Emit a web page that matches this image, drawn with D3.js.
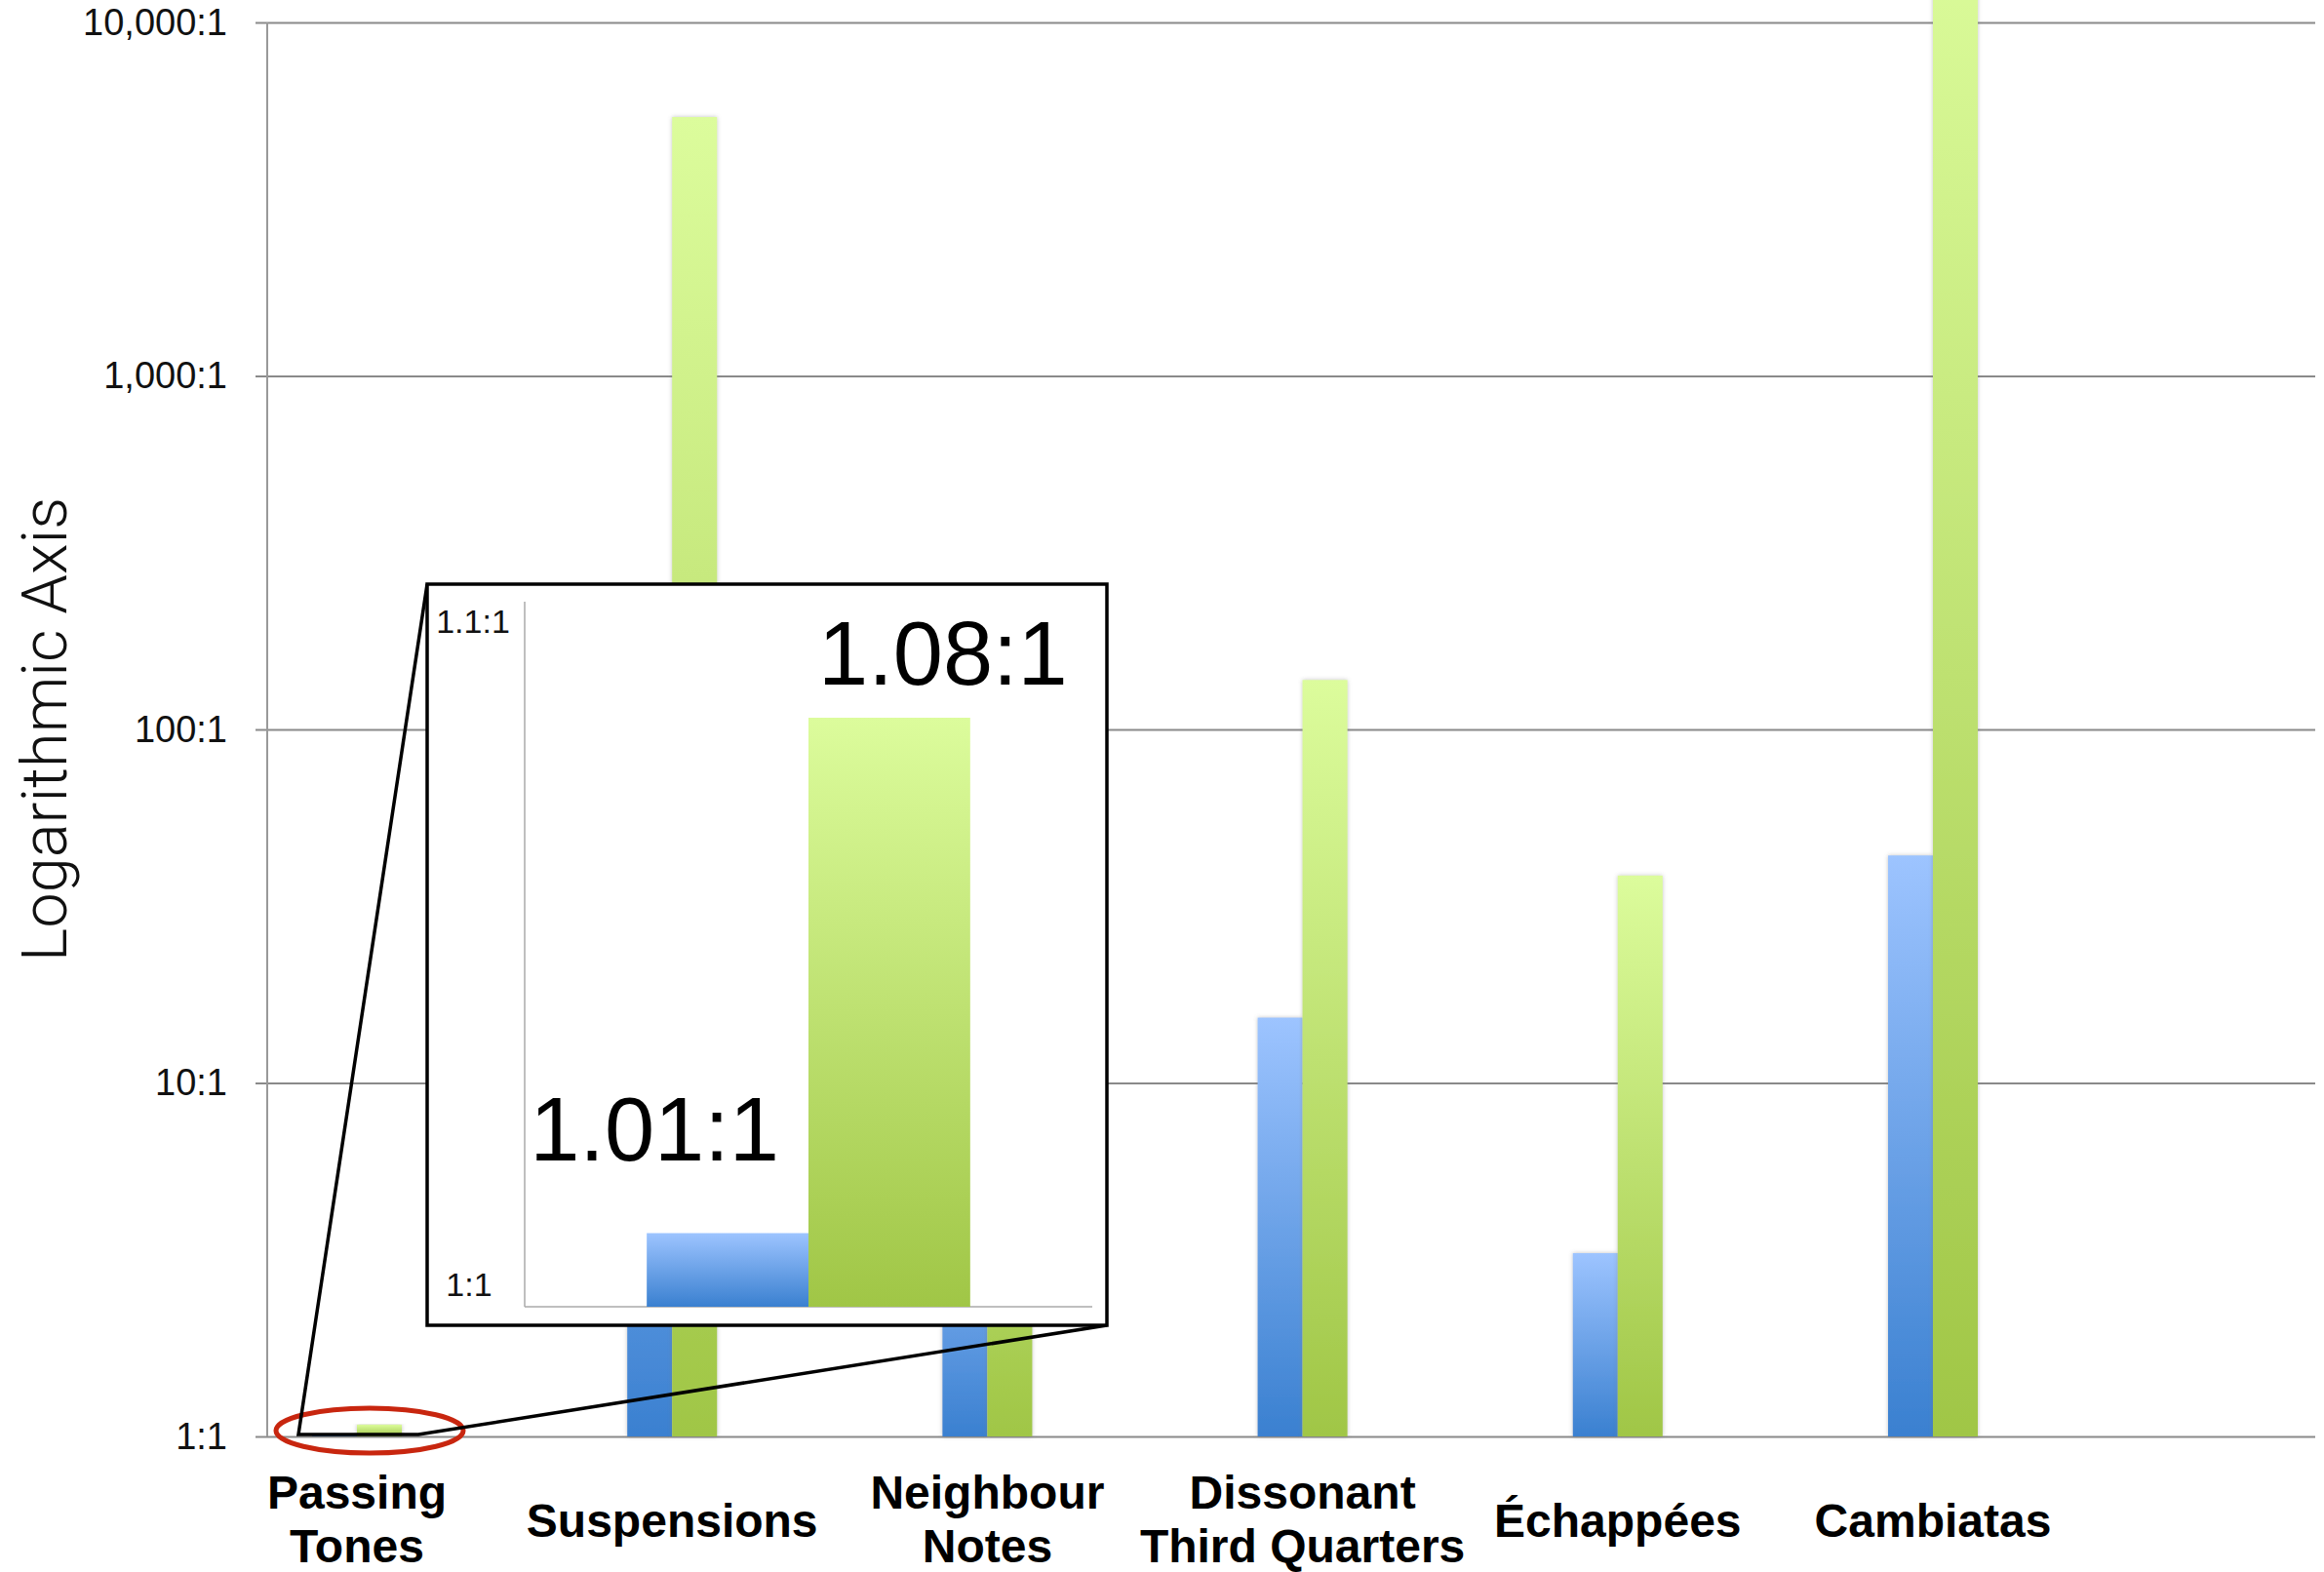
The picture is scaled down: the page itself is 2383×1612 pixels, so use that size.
<!DOCTYPE html>
<html>
<head>
<meta charset="utf-8">
<script src="https://cdn.jsdelivr.net/npm/d3@7"></script>
<style>
  html, body { margin: 0; padding: 0; background: #ffffff; }
  svg { display: block; }
</style>
</head>
<body>
<svg id="chart" width="2383" height="1612"></svg>
<script>
// ---------- data ----------
const categories = ["Passing Tones", "Suspensions", "Neighbour Notes", "Dissonant Third Quarters", "Échappées", "Cambiatas"];
const categoryLines = [["Passing", "Tones"], ["Suspensions"], ["Neighbour", "Notes"], ["Dissonant", "Third Quarters"], ["Échappées"], ["Cambiatas"]];
const seriesNames = ["blue", "green"];
const blueValues = [1.01, 40, 6, 15.3, 3.3, 44];
const greenValues = [1.08, 5400, 60, 138, 38.6, 20000];
const yTickValues = [1, 10, 100, 1000, 10000];
const yTickLabels = ["1:1", "10:1", "100:1", "1,000:1", "10,000:1"];
const yTitle = "Logarithmic Axis";
// inset (zoom of Passing Tones)
const insetCategory = ["Passing Tones"];
const insetValues = [1.01, 1.08];
const insetValueLabels = ["1.01:1", "1.08:1"];
const insetTickValues = [1, 1.1];
const insetTickLabels = ["1:1", "1.1:1"];

// ---------- setup ----------
const svg = d3.select("#chart");
svg.append("rect").attr("width", 2383).attr("height", 1612).attr("fill", "#ffffff");

const defs = svg.append("defs");
function grad(id, top, bottom) {
  const g = defs.append("linearGradient").attr("id", id)
    .attr("x1", 0).attr("y1", 0).attr("x2", 0).attr("y2", 1);
  g.append("stop").attr("offset", "0%").attr("stop-color", top);
  g.append("stop").attr("offset", "100%").attr("stop-color", bottom);
}
grad("gBlue", "#9dc4ff", "#3a80d0");
grad("gGreen", "#dcfc9c", "#a0c646");
const fills = { blue: "url(#gBlue)", green: "url(#gGreen)" };
const sh = defs.append("filter").attr("id", "shadow")
  .attr("x", "-30%").attr("y", "-5%").attr("width", "160%").attr("height", "110%");
sh.append("feDropShadow").attr("dx", 0).attr("dy", 0).attr("stdDeviation", 2)
  .attr("flood-color", "#777").attr("flood-opacity", 0.45);

const plotLeft = 274, plotRight = 2374, plotTop = 23, plotBottom = 1473;

const y = d3.scaleLog().domain([1, 10000]).range([plotBottom, plotTop]);
const x = d3.scalePoint().domain(categories).range([366, 1982]);
const xs = d3.scaleBand().domain(seriesNames).range([-46, 46]);

// ---------- gridlines + y axis ----------
const yAxis = d3.axisLeft(y)
  .tickValues(yTickValues)
  .tickSize(-(plotRight - 262))
  .tickPadding(29)
  .tickFormat((d, i) => yTickLabels[i]);
const gy = svg.append("g").attr("transform", "translate(262,0)").call(yAxis);
gy.select(".domain").remove();
gy.selectAll(".tick line").attr("stroke", "#8a8a8a").attr("stroke-width", 2);
gy.selectAll(".tick text")
  .attr("font-family", "'Liberation Sans', Arial, sans-serif")
  .attr("font-size", 38).attr("fill", "#111");

svg.append("line")
  .attr("x1", plotLeft).attr("x2", plotLeft)
  .attr("y1", plotTop).attr("y2", plotBottom)
  .attr("stroke", "#999").attr("stroke-width", 2);

// y title
svg.append("text")
  .attr("transform", `translate(68,${(plotTop + plotBottom) / 2}) rotate(-90)`)
  .attr("text-anchor", "middle")
  .attr("font-family", "Roboto, 'Liberation Sans', sans-serif")
  .attr("font-weight", 300)
  .attr("font-size", 65)
  .attr("fill", "#111")
  .text(yTitle);

// ---------- bars ----------
const rows = categories.map((c, i) => ({ cat: c, vals: [
  { s: "blue", v: blueValues[i] }, { s: "green", v: greenValues[i] } ] }));

const barG = svg.append("g");
rows.forEach(r => {
  r.vals.forEach(d => {
    barG.append("rect")
      .attr("x", x(r.cat) + xs(d.s))
      .attr("width", xs.bandwidth())
      .attr("y", y(d.v))
      .attr("height", y(1) - y(d.v))
      .attr("fill", fills[d.s])
      .attr("filter", "url(#shadow)");
  });
});

// ---------- category labels ----------
const labG = svg.append("g")
  .attr("font-family", "'Liberation Sans', Arial, sans-serif")
  .attr("font-weight", "bold")
  .attr("font-size", 48)
  .attr("fill", "#000")
  .attr("text-anchor", "middle");
categories.forEach((c, i) => {
  const lines = categoryLines[i];
  const t = labG.append("text").attr("x", x(c));
  if (lines.length === 1) {
    t.attr("y", 1576).text(lines[0]);
  } else {
    lines.forEach((ln, k) => {
      t.append("tspan").attr("x", x(c)).attr("y", 1547 + k * 55).text(ln);
    });
  }
});

// ---------- highlighted region + zoom lines ----------
const pt = x(categories[0]);
svg.append("ellipse")
  .attr("cx", pt + 13).attr("cy", y(1) - 6)
  .attr("rx", 96).attr("ry", 23)
  .attr("fill", "none").attr("stroke", "#c8260f").attr("stroke-width", 5);

const box = { x: 438, y: 599, w: 697, h: 760 };
const regL = pt - 60, regR = pt + 63, regY = y(1) - 2;
svg.append("path")
  .attr("d", `M${box.x},${box.y} L${regL},${regY} L${regR},${regY} L${box.x + box.w},${box.y + box.h}`)
  .attr("fill", "none").attr("stroke", "#000").attr("stroke-width", 3.5)
  .attr("stroke-linejoin", "miter");

// ---------- inset ----------
svg.append("rect")
  .attr("x", box.x).attr("y", box.y).attr("width", box.w).attr("height", box.h)
  .attr("fill", "#ffffff").attr("stroke", "#000").attr("stroke-width", 3.5);

const iy = d3.scaleLinear().domain([1, 1.1]).range([1340, 585]);
const ix = d3.scaleBand().domain(insetCategory).range([538, 1120]).padding(0.274);
const ixs = d3.scaleBand().domain(seriesNames).range([0, ix.bandwidth()]);

svg.append("line").attr("x1", 538).attr("x2", 538).attr("y1", 617).attr("y2", 1340)
  .attr("stroke", "#aaa").attr("stroke-width", 1.5);
svg.append("line").attr("x1", 538).attr("x2", 1120).attr("y1", 1340).attr("y2", 1340)
  .attr("stroke", "#aaa").attr("stroke-width", 1.5);

seriesNames.forEach((s, i) => {
  svg.append("rect")
    .attr("x", ix(insetCategory[0]) + ixs(s))
    .attr("width", ixs.bandwidth())
    .attr("y", iy(insetValues[i]))
    .attr("height", iy(1) - iy(insetValues[i]))
    .attr("fill", fills[s]);
});

// inset value labels
const vlab = svg.append("g")
  .attr("font-family", "'Liberation Sans', Arial, sans-serif")
  .attr("font-size", 92).attr("fill", "#000");
vlab.append("text")
  .attr("x", ix(insetCategory[0]) + ixs("blue") + ixs.bandwidth() - 30)
  .attr("y", iy(insetValues[0]) - 75)
  .attr("text-anchor", "end")
  .text(insetValueLabels[0]);
vlab.append("text")
  .attr("x", ix(insetCategory[0]) + ixs("green") + 10)
  .attr("y", iy(insetValues[1]) - 34)
  .attr("text-anchor", "start")
  .text(insetValueLabels[1]);

// inset tick labels
const itl = svg.append("g")
  .attr("font-family", "'Liberation Sans', Arial, sans-serif")
  .attr("font-size", 34).attr("fill", "#111").attr("text-anchor", "middle");
itl.append("text").attr("x", 481).attr("y", iy(insetTickValues[0]) - 11).text(insetTickLabels[0]);
itl.append("text").attr("x", 485).attr("y", iy(insetTickValues[1]) + 64).text(insetTickLabels[1]);
</script>
</body>
</html>
